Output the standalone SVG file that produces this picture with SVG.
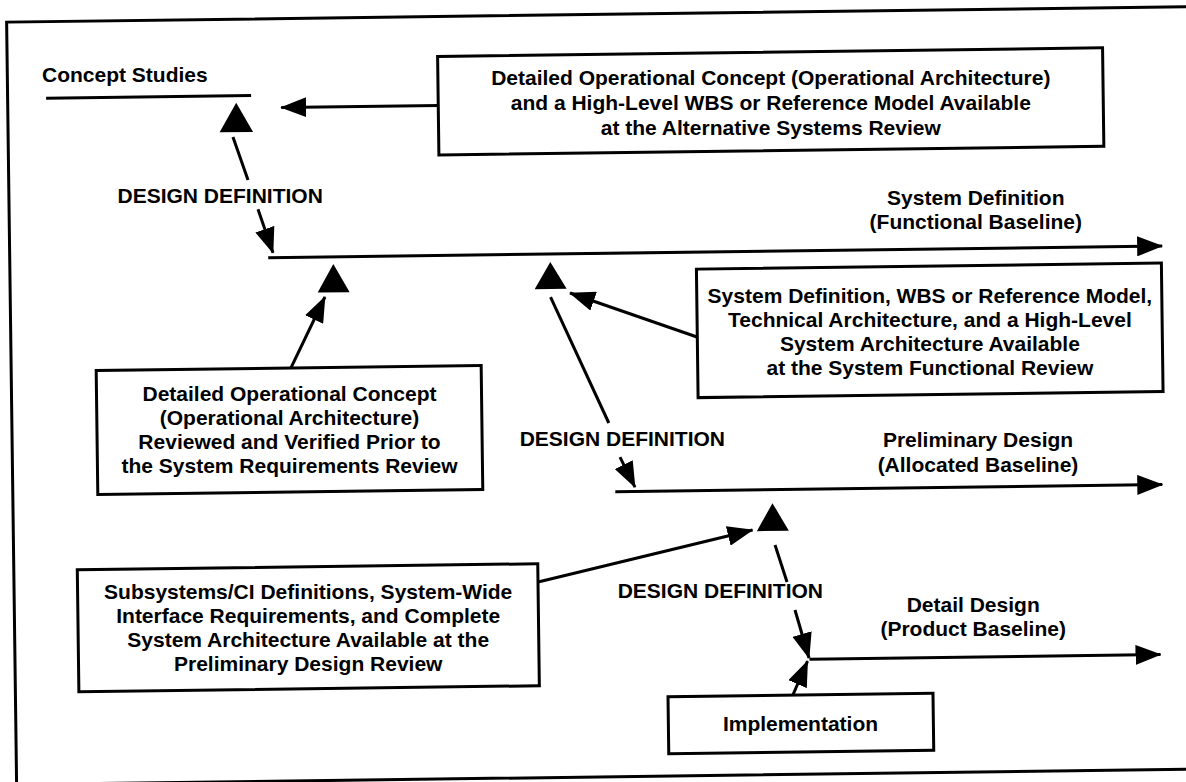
<svg xmlns="http://www.w3.org/2000/svg" width="1186" height="782" viewBox="0 0 1186 782">
<defs>
<style>
.t{font-family:"Liberation Sans",Arial,Helvetica,sans-serif;font-weight:bold;font-size:21px;fill:#000}
.c{text-anchor:middle}
.box{fill:#fff;stroke:#000;stroke-width:3}
.ln{fill:none;stroke:#000;stroke-width:3}
.tri{fill:#000}
</style>
<marker id="ah" viewBox="0 0 26 20" refX="25" refY="10" markerWidth="26" markerHeight="20" markerUnits="userSpaceOnUse" orient="auto"><path d="M0,0 L26,10 L0,20 z" fill="#000"/></marker>
</defs>
<rect width="1186" height="782" fill="#fff"/>
<g id="shapes" transform="rotate(-0.75 593 391)">
<rect id="frame" x="11.5" y="14.5" width="1210" height="762.5" class="ln"/>

<g id="connectors">
<line class="ln" x1="50" y1="91" x2="255" y2="91"/>
<line class="ln" x1="443" y1="103.5" x2="285" y2="103.5" marker-end="url(#ah)"/>
<line class="ln" x1="236.3" y1="132.3" x2="250.8" y2="175.5"/>
<line class="ln" x1="260.4" y1="204.8" x2="274.8" y2="248.6" marker-end="url(#ah)"/>
<line class="ln" x1="270" y1="253.5" x2="1164" y2="253.5" marker-end="url(#ah)"/>
<line class="ln" x1="290.3" y1="366" x2="326.2" y2="293.5" marker-end="url(#ah)"/>
<line class="ln" x1="697.7" y1="338.4" x2="571.3" y2="292.7" marker-end="url(#ah)"/>
<line class="ln" x1="551.8" y1="296.5" x2="608.4" y2="423.2"/>
<line class="ln" x1="619.1" y1="457.4" x2="633.7" y2="487.6" marker-end="url(#ah)"/>
<line class="ln" x1="614" y1="492" x2="1161" y2="492" marker-end="url(#ah)"/>
<line class="ln" x1="535.6" y1="581.3" x2="750.7" y2="532.1" marker-end="url(#ah)"/>
<line class="ln" x1="773" y1="547.4" x2="784.5" y2="584.5"/>
<line class="ln" x1="792.1" y1="612.6" x2="805.5" y2="660.8" marker-end="url(#ah)"/>
<line class="ln" x1="806" y1="662" x2="1157" y2="662" marker-end="url(#ah)"/>
<line class="ln" x1="788" y1="699.6" x2="804" y2="664" marker-end="url(#ah)"/>
</g>

<g id="milestone-1"><polygon class="tri" points="240,98 223,127.5 256.5,127.5"/></g>
<g id="milestone-2"><polygon class="tri" points="335,260.5 319,289 351,289"/></g>
<g id="milestone-3"><polygon class="tri" points="552,261.5 536,288.5 568,288.5"/></g>
<g id="milestone-4"><polygon class="tri" points="771,505.5 755,533.3 787,533.3"/></g>

<rect id="box-asr-frame" class="box" x="442" y="54.5" width="665" height="98.5"/>
<rect id="box-srr-frame" class="box" x="96.5" y="364" width="385" height="124"/>
<rect id="box-sfr-frame" class="box" x="698" y="270.5" width="465" height="128.5"/>
<rect id="box-pdr-frame" class="box" x="75" y="563" width="460.5" height="122"/>
<rect id="box-impl-frame" class="box" x="664" y="697.7" width="265" height="57"/>
</g>

<g id="concept-studies"><text class="t" x="42" y="82">Concept Studies</text></g>

<g id="box-asr">
<text class="t c" x="770.8" y="84.6">Detailed Operational Concept (Operational Architecture)</text>
<text class="t c" x="770.8" y="109.6">and a High-Level WBS or Reference Model Available</text>
<text class="t c" x="770.8" y="134.6">at the Alternative Systems Review</text>
</g>

<g id="dd-1"><text class="t" x="117.5" y="203">DESIGN DEFINITION</text></g>

<g id="system-definition">
<text class="t c" x="975.8" y="204.5">System Definition</text>
<text class="t c" x="975.8" y="228.5">(Functional Baseline)</text>
</g>

<g id="box-srr">
<text class="t c" x="289.5" y="401">Detailed Operational Concept</text>
<text class="t c" x="289.5" y="425">(Operational Architecture)</text>
<text class="t c" x="289.5" y="449">Reviewed and Verified Prior to</text>
<text class="t c" x="289.5" y="473">the System Requirements Review</text>
</g>

<g id="box-sfr">
<text class="t c" x="929.9" y="302.6">System Definition, WBS or Reference Model,</text>
<text class="t c" x="929.9" y="326.6">Technical Architecture, and a High-Level</text>
<text class="t c" x="929.9" y="350.6">System Architecture Available</text>
<text class="t c" x="929.9" y="374.6">at the System Functional Review</text>
</g>

<g id="dd-2"><text class="t" x="519.7" y="445.6">DESIGN DEFINITION</text></g>

<g id="preliminary-design">
<text class="t c" x="978" y="447">Preliminary Design</text>
<text class="t c" x="978" y="472">(Allocated Baseline)</text>
</g>

<g id="box-pdr">
<text class="t c" x="308.2" y="599.3">Subsystems/CI Definitions, System-Wide</text>
<text class="t c" x="308.2" y="623.3">Interface Requirements, and Complete</text>
<text class="t c" x="308.2" y="647.3">System Architecture Available at the</text>
<text class="t c" x="308.2" y="671.3">Preliminary Design Review</text>
</g>

<g id="dd-3"><text class="t" x="617.7" y="598.4">DESIGN DEFINITION</text></g>

<g id="detail-design">
<text class="t c" x="973.2" y="612">Detail Design</text>
<text class="t c" x="973.2" y="636">(Product Baseline)</text>
</g>

<g id="implementation">
<text class="t c" x="800.5" y="730.8">Implementation</text>
</g>
</svg>
